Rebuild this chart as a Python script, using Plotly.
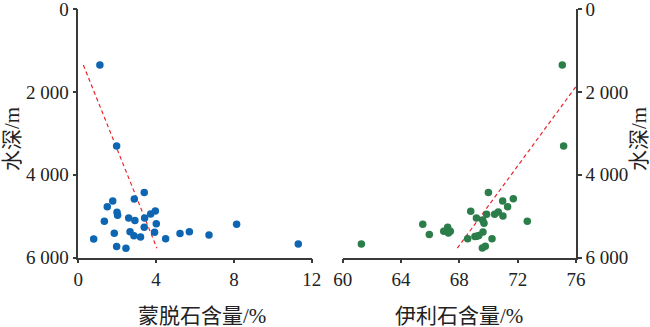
import plotly.graph_objects as go

# Left panel: montmorillonite content (%) vs water depth (m)
mont_x = [1.11, 1.97, 3.39, 2.88, 1.77, 1.49, 1.99, 3.96, 3.72, 2.02, 2.59, 3.41, 2.91, 1.34, 4.01,
          8.14, 3.39, 2.66, 3.92, 5.71, 5.23, 1.85, 2.86, 6.72, 3.20, 0.79, 4.49, 1.97, 2.45, 11.31]
mont_depth = [1351, 3304, 4430, 4583, 4631, 4768, 4904, 4872, 4945, 4977, 5041, 5045, 5105, 5121, 5178,
              5190, 5266, 5375, 5387, 5375, 5419, 5411, 5470, 5451, 5499, 5548, 5544, 5729, 5773, 5668]
mont_trend_x = [0.26, 4.04]
mont_trend_y = [1350, 5770]

# Right panel: illite content (%) vs water depth (m)
ill_x = [75.06, 75.15, 69.99, 71.70, 70.97, 71.31, 68.78, 70.67, 70.42, 69.87, 70.99, 69.17, 69.60, 69.69,
         72.66, 65.49, 67.20, 66.93, 67.38, 67.25, 69.62, 65.94, 69.33, 69.07, 69.20, 68.57, 70.24, 61.28,
         69.58, 69.78]
ill_depth = [1351, 3304, 4430, 4575, 4631, 4768, 4880, 4896, 4953, 4953, 4993, 5041, 5089, 5170,
             5121, 5194, 5266, 5363, 5363, 5403, 5379, 5443, 5467, 5491, 5480, 5540, 5540, 5668,
             5765, 5725]
ill_trend_x = [67.86, 76.0]
ill_trend_y = [5770, 1870]

depth_ticks = [0, 2000, 4000, 6000]
depth_ticktext = ["0", "2 000", "4 000", "6 000"]
mont_ticks = [0, 4, 8, 12]
ill_ticks = [60, 64, 68, 72, 76]

FONT = "Liberation Serif, Times New Roman, Noto Sans CJK SC"
AX = "#3a3a3a"
TXT = "#222"

fig = go.Figure()
fig.add_trace(go.Scatter(x=mont_trend_x, y=mont_trend_y, mode="lines",
                         line=dict(color="#e8262b", width=1.2, dash="4px,3px"),
                         xaxis="x", yaxis="y", showlegend=False))
fig.add_trace(go.Scatter(x=mont_x, y=mont_depth, mode="markers",
                         marker=dict(color="#0e66b2", size=7.5),
                         xaxis="x", yaxis="y", showlegend=False, cliponaxis=False))
fig.add_trace(go.Scatter(x=ill_trend_x, y=ill_trend_y, mode="lines",
                         line=dict(color="#e8262b", width=1.2, dash="4px,3px"),
                         xaxis="x2", yaxis="y2", showlegend=False))
fig.add_trace(go.Scatter(x=ill_x, y=ill_depth, mode="markers",
                         marker=dict(color="#2b7d4a", size=7.5),
                         xaxis="x2", yaxis="y2", showlegend=False, cliponaxis=False))

common_axis = dict(showgrid=False, zeroline=False, showline=True, linecolor=AX, linewidth=1.5,
                   ticks="outside", ticklen=4, tickwidth=1.5, tickcolor=AX, automargin=False,
                   ticklabeloverflow="allow",
                   tickfont=dict(family=FONT, size=19, color=TXT))

ydom = [1 - 257.7 / 327, 1 - 9 / 327]
title_font = dict(family=FONT, size=21, color=TXT)
fig.update_layout(
    width=650, height=327,
    margin=dict(l=0, r=0, t=0, b=0),
    paper_bgcolor="white", plot_bgcolor="white",
    xaxis=dict(domain=[78.3 / 650, 311.7 / 650], range=[0, 12], tickvals=mont_ticks,
               anchor="y", **common_axis),
    yaxis=dict(domain=ydom, range=[6000, 0], tickvals=depth_ticks, ticktext=depth_ticktext,
               anchor="x", **common_axis),
    xaxis2=dict(domain=[342.7 / 650, 576 / 650], range=[60, 76], tickvals=ill_ticks,
                anchor="y2", **common_axis),
    yaxis2=dict(domain=ydom, range=[6000, 0], tickvals=depth_ticks, ticktext=depth_ticktext,
                anchor="x2", side="right", **common_axis),
    annotations=[
        dict(text="蒙脱石含量/%", x=202 / 650, y=1 - 316 / 327, xref="paper", yref="paper",
             xanchor="center", yanchor="middle", showarrow=False, font=title_font),
        dict(text="伊利石含量/%", x=458.5 / 650, y=1 - 316 / 327, xref="paper", yref="paper",
             xanchor="center", yanchor="middle", showarrow=False, font=title_font),
        dict(text="水深/m", x=12 / 650, y=1 - 139 / 327, xref="paper", yref="paper",
             xanchor="center", yanchor="middle",
             showarrow=False, textangle=-90, font=title_font),
        dict(text="水深/m", x=639 / 650, y=1 - 139 / 327, xref="paper", yref="paper",
             xanchor="center", yanchor="middle",
             showarrow=False, textangle=-90, font=title_font),
    ],
)

fig.write_html("out.html")
